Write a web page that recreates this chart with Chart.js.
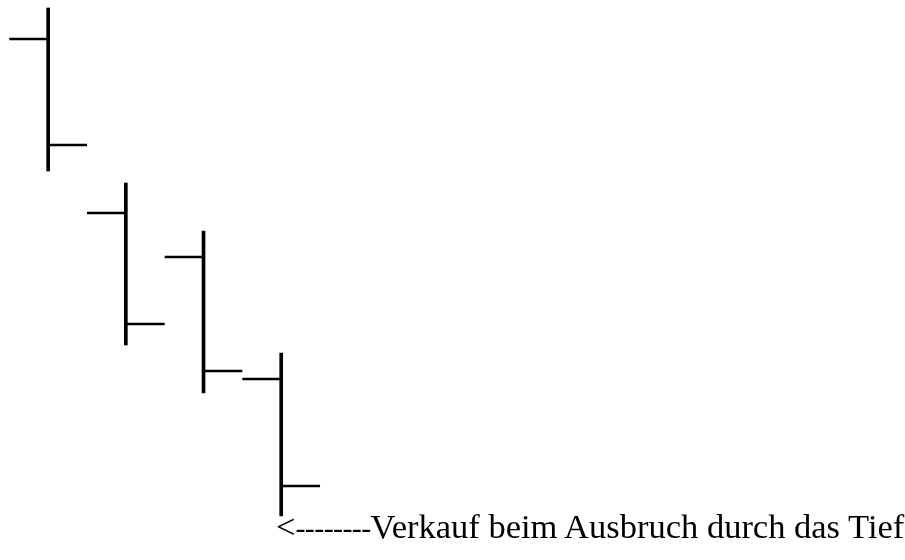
<!DOCTYPE html>
<html>
<head>
<meta charset="utf-8">
<script src="https://cdn.jsdelivr.net/npm/chart.js@4/dist/chart.umd.min.js"></script>
<style>
  body { margin: 0; background: #fff; }
  #wrap { position: relative; width: 905px; height: 560px; }
  #note {
    position: absolute; left: 276px; top: 507px;
    font-family: "Liberation Serif", "Times New Roman", serif;
    font-size: 34.5px; color: #000; white-space: nowrap;
  }
  #note .dash { font-size: 30px; letter-spacing: -0.6px; }
</style>
</head>
<body>
<div id="wrap">
  <canvas id="chartOhlc" width="905" height="560"></canvas>
  <div id="note">&lt;<span class="dash">--------</span>Verkauf beim Ausbruch durch das Tief</div>
</div>
<script>
// four price bars, falling step by step
var bars   = [0, 1, 2, 3];
var highs  = [110.4, 75.4, 65.8, 41.4];
var lows   = [77.8, 43.0, 33.4, 8.8];
var opens  = [104.2, 69.4, 60.6, 36.2];
var closes = [83.0, 47.2, 37.8, 14.8];

function drawOhlc() {
    var ctx = document.getElementById("chartOhlc");
    var tickLen = 0.5; // open/close tick length in bar units

    var ranges = [];
    var ticks = [];
    for (var i = 0; i < bars.length; i++) {
        ranges.push({x: bars[i], y: [lows[i], highs[i]]});
        ticks.push({x: bars[i] - tickLen, y: opens[i]});
        ticks.push({x: bars[i], y: opens[i]});
        ticks.push({x: bars[i], y: null});
        ticks.push({x: bars[i], y: closes[i]});
        ticks.push({x: bars[i] + tickLen, y: closes[i]});
        ticks.push({x: bars[i] + tickLen, y: null});
    }

    var myChart = new Chart(ctx, {
        type: 'bar',
        data: {
            datasets: [{
                type: 'bar',
                data: ranges,
                backgroundColor: '#000',
                borderWidth: 0,
                barThickness: 3,
                grouped: false
            }, {
                type: 'line',
                data: ticks,
                borderColor: '#000',
                borderWidth: 2.5,
                pointRadius: 0,
                spanGaps: false,
                tension: 0
            }]
        },
        options: {
            responsive: false,
            animation: false,
            layout: { padding: 0 },
            plugins: {
                legend: { display: false },
                tooltip: { enabled: false }
            },
            scales: {
                x: { type: 'linear', min: -0.62, max: 11.03, offset: false, display: false },
                y: { type: 'linear', min: 0, max: 112, display: false }
            }
        }
    });
}

drawOhlc();
</script>
</body>
</html>
